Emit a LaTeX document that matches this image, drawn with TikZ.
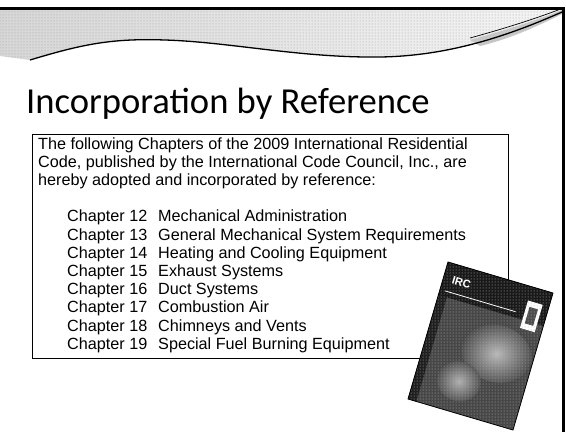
\documentclass[tikz,border=0pt]{standalone}
\usepackage{fontspec}
\setmainfont{Liberation Sans}
\newfontfamily\titlefont{Carlito}
\usetikzlibrary{patterns}
\begin{document}
\begin{tikzpicture}[x=1pt,y=-1pt,
  body/.style={anchor=base west, inner sep=0pt, font=\fontsize{16.2}{18}\selectfont},
  frameline/.style={line width=2.5pt, black},
  swoosh/.style={line width=1.3pt, black},
  boxline/.style={line width=0.9pt, black}]
\useasboundingbox (0,0) rectangle (566,432);
\fill[white] (0,0) rectangle (566,432);
% stippled band under the top line
\path[left color=gray!32, right color=gray!8, postaction={pattern=dots, pattern color=gray!75}]
  (0,8) -- (563,8) -- (563,12)
  .. controls (510,35) and (450,56) .. (380,57)
  .. controls (300,58) and (230,42) .. (165,40)
  .. controls (110,38) and (80,45) .. (30,60) -- (0,56) -- cycle;
\fill[gray!45] (470,40) .. controls (510,29) and (540,19) .. (562,10)
  -- (562,14) .. controls (530,30) and (505,40) .. (480,46) -- cycle;
\draw[swoosh] (30,60) .. controls (80,45) and (110,38) .. (165,40)
  .. controls (230,42) and (300,58) .. (380,57)
  .. controls (450,56) and (510,35) .. (562,12);
\draw[line width=0.7pt] (470,38) .. controls (510,27) and (540,17) .. (562,8.5);
\draw[frameline] (0,8.5) -- (563.5,8.5) -- (563.5,432);
% title
\node[anchor=base west, inner sep=0pt, font=\titlefont\fontsize{36.6}{40}\selectfont] (title) at (26,113) {Incorporation by Reference};
% text box
\draw[boxline] (32,134) rectangle (508,358);
\node[body] (p1) at (38,149) {The following Chapters of the 2009 International Residential};
\node[body] (p2) at (38,167.2) {Code, published by the International Code Council, Inc., are};
\node[body] (p3) at (38,185.4) {hereby adopted and incorporated by reference:};
\foreach \n/\t [count=\i from 0] in {12/Mechanical Administration,
  13/General Mechanical System Requirements,
  14/Heating and Cooling Equipment,
  15/Exhaust Systems,
  16/Duct Systems,
  17/Combustion Air,
  18/Chimneys and Vents,
  19/Special Fuel Burning Equipment}{
  \node[body] (c\n) at (67,221.8+18.2*\i) {Chapter \n};
  \node[body] (d\n) at (158,221.8+18.2*\i) {\t};
}
% book cover
\begin{scope}[shift={(448,262)}, x={(105pt,-31pt)}, y={(-40pt,-137pt)}]
  \fill[black!72] (0,0) -- (1,0) -- (1,1) -- (0,1) -- cycle;
  \shade[inner color=gray!55, outer color=black!72] (0.66,0.52) ellipse (0.32 and 0.2);
  \shade[inner color=gray!62, outer color=black!72] (0.4,0.78) ellipse (0.2 and 0.14);
  \fill[black!88] (0,0.24) -- (0.08,0.24) -- (0.08,1) -- (0,1) -- cycle;
  \fill[black!90] (0,0) -- (1,0) -- (1,0.24) -- (0,0.24) -- cycle;
  \draw[white, line width=0.8pt] (0.05,0.2) -- (0.72,0.2);
  \fill[white] (0.8,0.1) -- (0.94,0.1) -- (0.94,0.3) -- (0.8,0.3) -- cycle;
  \fill[black!70] (0.83,0.14) -- (0.91,0.14) -- (0.91,0.26) -- (0.83,0.26) -- cycle;
  \path[pattern=dots, pattern color=gray!55] (0,0) -- (1,0) -- (1,1) -- (0,1) -- cycle;
  \draw[black, line width=0.8pt] (0,0) -- (1,0) -- (1,1) -- (0,1) -- cycle;
  \node[text=white, inner sep=0pt, rotate=-16.4, font=\bfseries\fontsize{11}{11}\selectfont] (irc) at (0.17,0.11) {IRC};
\end{scope}
\end{tikzpicture}
\end{document}
